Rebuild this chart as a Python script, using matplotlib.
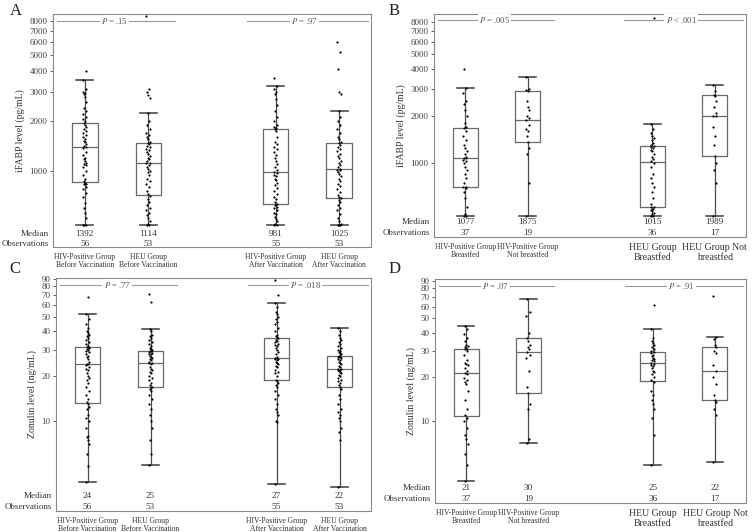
import matplotlib
matplotlib.use("Agg")
import matplotlib.pyplot as plt
from matplotlib.transforms import blended_transform_factory as btf
from matplotlib.ticker import NullLocator

plt.rcParams['font.family'] = ['Liberation Serif', 'DejaVu Serif']
plt.rcParams['mathtext.fontset'] = 'stix'

positions = [1, 2, 4, 5]

labels_vacc = ["HIV-Positive Group\nBefore Vaccination", "HEU Group\nBefore Vaccination",
               "HIV-Positive Group\nAfter Vaccination", "HEU Group\nAfter Vaccination"]
labels_bf = ["HIV-Positive Group\nBreastfed", "HIV-Positive Group\nNot breastfed",
             "HEU Group\nBreastfed", "HEU Group Not\nbreastfed"]

# ---------------- Panel A: iFABP by vaccination ----------------
A1 = [470, 470, 470, 520, 560, 600, 640, 700, 740, 780, 800, 830, 840, 850,
      870, 900, 950, 1000, 1050, 1080, 1100, 1120, 1150, 1180, 1200, 1250, 1300, 1380,
      1400, 1420, 1450, 1500, 1520, 1550, 1600, 1650, 1700, 1750, 1800, 1850, 1900, 1950,
      2000, 2050, 2100, 2200, 2300, 2400, 2600, 2800, 2900, 2950, 3000, 3100, 3550, 4000]
A2 = [470, 470, 480, 500, 520, 540, 560, 580, 600, 620, 650, 680, 710,
      730, 760, 800, 830, 870, 900, 940, 980, 1000, 1030, 1060, 1090, 1110,
      1120, 1150, 1180, 1200, 1230, 1260, 1300, 1330, 1360, 1400, 1420, 1450, 1470,
      1500, 1550, 1600, 1650, 1700, 1800, 1900, 2000, 2236, 2750, 2850, 3000, 3100, 8600]
A3 = [470, 470, 480, 500, 510, 530, 550, 560, 580, 600, 610, 620, 630, 630,
      650, 680, 700, 730, 760, 790, 820, 850, 880, 900, 930, 950, 975,
      990, 1020, 1060, 1100, 1150, 1200, 1250, 1300, 1350, 1400, 1450, 1500, 1600, 1750,
      1800, 1820, 1850, 1900, 2000, 2100, 2300, 2500, 2700, 2900, 3000, 3100, 3250, 3650]
A4 = [470, 470, 470, 480, 500, 520, 550, 580, 600, 620, 650, 670, 685,
      700, 720, 750, 780, 810, 840, 870, 900, 930, 960, 990, 1010, 1020,
      1030, 1060, 1090, 1120, 1150, 1190, 1230, 1270, 1310, 1350, 1400, 1440, 1470,
      1500, 1550, 1600, 1700, 1800, 1900, 2000, 2100, 2300, 2900, 3000, 4100, 5200, 6000]
A_med = [1392, 1114, 981, 1025]
A_q1 = [858, 717, 633, 688]
A_q3 = [1946, 1475, 1790, 1475]
A_lo = [470, 470, 470, 470]
A_hi = [3550, 2236, 3250, 2300]
A_med_labels = ["1392", "1114", "981", "1025"]
A_n = ["56", "53", "55", "53"]
A_p = ["= .15", "= .97"]

# ---------------- Panel B: iFABP by breastfeeding ----------------
B1 = [460, 460, 470, 520, 600, 650, 690, 700, 700,
      750, 800, 850, 900, 950, 1000, 1030, 1050, 1070, 1077,
      1100, 1150, 1200, 1250, 1300, 1400, 1500, 1600, 1670,
      1700, 1800, 2000, 2200, 2400, 2500, 2800, 3025, 4000]
B2 = [457, 750, 1150, 1250, 1363, 1500, 1600, 1650, 1750, 1875,
      1950, 2000, 2200, 2300, 2500, 2895, 2950, 3000, 3560]
B3 = [457, 460, 470, 480, 490, 500, 510, 520, 522,
      550, 600, 650, 700, 750, 800, 850, 950, 1000,
      1030, 1060, 1100, 1150, 1200, 1220, 1250, 1270, 1285,
      1300, 1350, 1400, 1450, 1500, 1550, 1650, 1778, 8500]
B4 = [457, 750, 900, 1000, 1108, 1300, 1500, 1700, 1989, 2000,
      2100, 2300, 2500, 2700, 2750, 2900, 3162]
B_med = [1077, 1875, 1015, 1989]
B_q1 = [702, 1363, 522, 1108]
B_q3 = [1676, 2895, 1285, 2727]
B_lo = [457, 457, 457, 457]
B_hi = [3025, 3560, 1778, 3162]
B_med_labels = ["1077", "1875", "1015", "1989"]
B_n = ["37", "19", "36", "17"]
B_p = ["= .005", "< .001"]

# ---------------- Panel C: zonulin by vaccination ----------------
C1 = [3.9, 5, 6, 7, 7.5, 7.8, 8, 9, 10, 10.5, 11, 12, 12.5, 13,
      13.5, 14, 15, 16, 17, 18, 19, 19.5, 20, 21, 22, 22.5, 23, 23.8,
      24, 24.2, 25, 26, 27, 27.5, 28, 29, 29.5, 30, 30.5, 31, 31.3, 31.6,
      32, 33, 34, 35, 36, 37, 38, 39, 40, 42, 45, 48, 52.5, 68]
C2 = [5.1, 6, 7.5, 9, 10, 11, 12, 13, 14, 15, 16, 16.5, 16.9,
      17, 17.5, 18, 19, 19.5, 20, 21, 21.5, 22, 22.5, 23, 24, 24.4,
      24.6, 25, 25.5, 26, 26.5, 27, 27.5, 28, 28.3, 28.7, 29, 29.3, 29.7,
      30, 30.5, 31, 32, 33, 34, 35, 36, 37, 38, 40, 41.7, 63, 71]
C3 = [3.8, 9.8, 10, 11, 11.5, 12, 13, 14, 15, 16, 17, 17.5, 18, 18.5,
      19, 20, 21, 21.5, 22, 23, 23.5, 24, 24.5, 25, 25.5, 26, 26.2,
      26.5, 27, 28, 29, 30, 31, 32, 32.5, 33, 34, 34.5, 35, 36, 36.3,
      37, 38, 40, 42, 45, 46, 48, 50, 52, 54, 58, 62, 70, 88]
C4 = [3.6, 7.5, 8.5, 9, 10, 10.5, 11, 11.5, 12, 13, 14, 15, 16.5,
      17, 17.5, 18, 18.5, 19, 19.5, 20, 20.5, 21, 21.3, 21.6, 22, 22.1,
      22.3, 22.5, 23, 23.5, 24, 24.5, 25, 25.5, 26, 26.3, 26.7, 27, 27.4,
      28, 28.5, 29, 29.5, 30, 31, 32, 33, 34, 35, 36, 38, 40, 42.4]
C_med = [24, 24.5, 26.5, 22.2]
C_q1 = [13.2, 16.9, 18.8, 16.9]
C_q3 = [31.6, 29.7, 36.3, 27.5]
C_lo = [3.9, 5.1, 3.8, 3.6]
C_hi = [52.5, 41.7, 62, 42.4]
C_med_labels = ["24", "25", "27", "22"]
C_n = ["56", "53", "55", "53"]
C_p = ["= .77", "= .018"]

# ---------------- Panel D: zonulin by breastfeeding ----------------
D1 = [3.9, 5, 6, 7, 7.5, 8, 9, 10, 10.5,
      11, 12, 14, 16, 18, 18.5, 19, 19.5, 21, 21.2,
      22, 23, 24, 24.5, 25, 26, 28, 30, 30.9,
      31, 32, 32.5, 33, 35, 37, 39, 42, 44.3]
D2 = [7.1, 7.5, 12, 13, 15.5, 17, 22, 27, 28, 29.5,
      31, 32, 33, 35, 36.6, 40, 52, 55, 67.5]
D3 = [5, 8, 10.5, 12, 13, 14, 15, 16, 18.5,
      19, 20, 21, 21.5, 22, 23, 23.5, 24, 24.5,
      25, 25.5, 26, 26.5, 27, 27.5, 28, 29, 29.5,
      30, 31, 32, 33, 34, 35, 37, 42.3, 62]
D4 = [5.3, 11, 12, 13.5, 13.9, 15, 18, 20, 21.9, 24,
      29, 30, 31.8, 33, 36, 37.4, 71]
D_med = [21.2, 29.5, 24.8, 21.9]
D_q1 = [10.8, 15.5, 18.7, 13.9]
D_q3 = [30.9, 36.6, 29.5, 31.8]
D_lo = [3.9, 7.1, 5.0, 5.3]
D_hi = [44.3, 67.5, 42.3, 37.4]
D_med_labels = ["21", "30", "25", "22"]
D_n = ["37", "19", "36", "17"]
D_p = ["= .07", "= .91"]

ticks_ifabp = [1000, 2000, 3000, 4000, 5000, 6000, 7000, 8000]
ticks_zon = [10, 20, 30, 40, 50, 60, 70, 80, 90]

jitter = [-0.025, 0.015, -0.01, 0.025, 0.0, -0.015, 0.01, -0.03, 0.02]

TXT = '#333333'

fig = plt.figure(figsize=(7.52, 5.32), dpi=100)


def panel(rect, letter, letter_xy, groups, med, q1, q3, lo, hi, med_labels, nobs,
          xlabels, xlabel_sizes, ylabel, yticks, ylim, pvals, med_y, obs_y, pline_y):
    ax = fig.add_axes(rect)
    ax.set_yscale('log')
    stats = []
    for i in range(4):
        stats.append(dict(med=med[i], q1=q1[i], q3=q3[i], whislo=lo[i], whishi=hi[i], fliers=[]))
    ax.bxp(stats, positions=positions, widths=0.4, capwidths=0.27, showfliers=False,
           boxprops=dict(color='#6a6a6a', lw=0.9),
           whiskerprops=dict(color='#4a4a4a', lw=0.9),
           capprops=dict(color='#3a3a3a', lw=1.1),
           medianprops=dict(color='#6a6a6a', lw=0.9),
           manage_ticks=False)
    for p, vals in zip(positions, groups):
        xs = [p + jitter[k % len(jitter)] for k in range(len(vals))]
        ax.scatter(xs, vals, s=2.5, c='black', linewidths=0, zorder=4)
    ax.set_xlim(0.5, 5.5)
    ax.set_ylim(*ylim)
    ax.set_yticks(yticks)
    ax.set_yticklabels([str(t) for t in yticks])
    ax.yaxis.set_minor_locator(NullLocator())
    ax.tick_params(axis='y', labelsize=6.5, colors='#444444', length=2.5, width=0.6, pad=1.5)
    ax.set_xticks(positions)
    ax.set_xticklabels(xlabels)
    ax.tick_params(axis='x', length=0, pad=4, colors=TXT)
    for lab, fs in zip(ax.get_xticklabels(), xlabel_sizes):
        lab.set_fontsize(fs)
        lab.set_linespacing(1.15)
    for s in ax.spines.values():
        s.set_color('#8a8a8a')
        s.set_linewidth(0.8)
    ax.set_ylabel(ylabel, fontsize=7, color=TXT, labelpad=3)
    tr = btf(ax.transData, ax.transAxes)
    for p, m, n in zip(positions, med_labels, nobs):
        ax.text(p, med_y, m, transform=tr, ha='center', va='center', fontsize=6.6, color=TXT)
        ax.text(p, obs_y, n, transform=tr, ha='center', va='center', fontsize=6.6, color=TXT)
    ax.text(-0.012, med_y, "Median", transform=ax.transAxes, ha='right', va='center', fontsize=6.6, color=TXT)
    ax.text(-0.012, obs_y, "Observations", transform=ax.transAxes, ha='right', va='center', fontsize=6.4, color=TXT)
    for (x0, x1, xc), pv in zip([(0.57, 2.42, 1.47), (3.55, 5.45, 4.46)], pvals):
        ax.plot([x0, x1], [pline_y, pline_y], transform=tr, color='#999999', lw=0.8, zorder=2)
        ax.text(xc, pline_y, r"$P$ " + pv, transform=tr, ha='center', va='center',
                fontsize=6.2, color='#555555', zorder=3,
                bbox=dict(facecolor='white', edgecolor='none', pad=0.8))
    fig.text(letter_xy[0], letter_xy[1], letter, fontsize=12, color='#222222', ha='left', va='top')
    return ax


small = [5.5, 5.5, 5.5, 5.5]
mixed = [5.5, 5.5, 7, 7]

panel([53/752, 1-247/532, 318/752, 233/532], "A", (0.013, 0.995),
      [A1, A2, A3, A4], A_med, A_q1, A_q3, A_lo, A_hi, A_med_labels, A_n,
      labels_vacc, small, "iFABP level (pg/mL)", ticks_ifabp, (348, 8830), A_p,
      0.056, 0.014, 0.970)

panel([434/752, 1-237/532, 312/752, 223/532], "B", (0.517, 0.995),
      [B1, B2, B3, B4], B_med, B_q1, B_q3, B_lo, B_hi, B_med_labels, B_n,
      labels_bf, mixed, "iFABP level (pg/mL)", ticks_ifabp, (336, 9020), B_p,
      0.067, 0.018, 0.973)

panel([56/752, 1-511/532, 315/752, 233/532], "C", (0.013, 0.51),
      [C1, C2, C3, C4], C_med, C_q1, C_q3, C_lo, C_hi, C_med_labels, C_n,
      labels_vacc, small, "Zonulin level (ng/mL)", ticks_zon, (2.5, 91), C_p,
      0.064, 0.017, 0.970)

panel([435/752, 1-503/532, 311/752, 224/532], "D", (0.517, 0.51),
      [D1, D2, D3, D4], D_med, D_q1, D_q3, D_lo, D_hi, D_med_labels, D_n,
      labels_bf, mixed, "Zonulin level (ng/mL)", ticks_zon, (2.77, 92.5), D_p,
      0.067, 0.018, 0.969)

fig.savefig("out.png", dpi=100)
